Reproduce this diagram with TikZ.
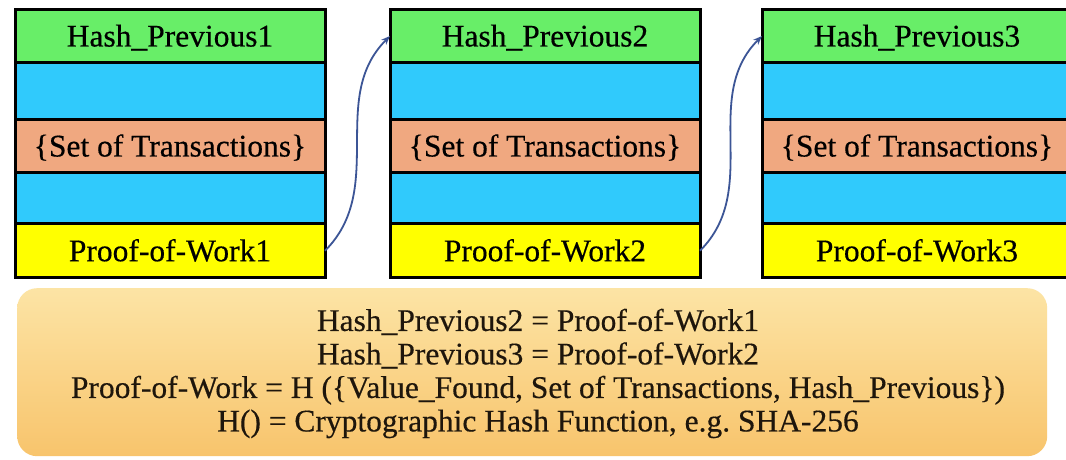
\documentclass[tikz,border=0pt]{standalone}
\usepackage{fontspec}
\setmainfont{Liberation Serif}[FakeBold=0.4]
\usetikzlibrary{arrows.meta}
\definecolor{hpgreen}{RGB}{104,238,104}
\definecolor{txblue}{RGB}{48,202,252}
\definecolor{txorange}{RGB}{240,168,128}
\definecolor{powyellow}{RGB}{255,255,0}
\definecolor{linkblue}{RGB}{60,85,150}
\definecolor{notetop}{RGB}{252,228,165}
\definecolor{notebot}{RGB}{248,196,108}
\definecolor{notetext}{RGB}{30,22,12}
\tikzset{
  rowbox/.style={draw=black, line width=2.2pt, minimum width=310pt, inner sep=0pt, outer sep=0pt,
    text height=21pt, text depth=0pt, anchor=north west, font=\fontsize{31.5}{33.5}\selectfont},
  hprow/.style={rowbox, fill=hpgreen, minimum height=53pt},
  blrowa/.style={rowbox, fill=txblue, minimum height=57pt},
  txrow/.style={rowbox, fill=txorange, minimum height=53pt},
  blrowb/.style={rowbox, fill=txblue, minimum height=51pt},
  pwrow/.style={rowbox, fill=powyellow, minimum height=54.5pt},
  frame/.style={draw=black, line width=3pt},
  link/.style={draw=linkblue, line width=1.8pt, -{Stealth[length=9pt,width=7pt]}},
  notebox/.style={rounded corners=20pt, top color=notetop, bottom color=notebot, draw=none},
  notetxt/.style={align=center, text=notetext, font=\fontsize{31.5}{33.5}\selectfont}
}
\begin{document}
\begin{tikzpicture}[x=1pt,y=1pt]
\useasboundingbox (0,0) rectangle (1066,460);
\fill[white] (0,0) rectangle (1066,460);
\foreach \i/\x in {1/15,2/390,3/762} {
  \node[hprow] (hp\i) at (\x,450.5) {Hash\_Previous\i};
  \node[blrowa] (ba\i) at (hp\i.south west) {};
  \node[txrow] (tr\i) at (ba\i.south west) {\{Set of Transactions\}};
  \node[blrowb] (bb\i) at (tr\i.south west) {};
  \node[pwrow] (pw\i) at (bb\i.south west) {Proof-of-Work\i};
  \draw[frame] (hp\i.north west) rectangle (pw\i.south east);
}
\draw[link] (pw1.east) to[out=45,in=225] (hp2.west);
\draw[link] (pw2.east) to[out=45,in=225] (hp3.west);
\node[notebox, minimum width=1030pt, minimum height=168pt, anchor=north west] (note) at (17,172) {};
\node[notetxt] (eqs) at (538,86.5) {Hash\_Previous2 = Proof-of-Work1\\
Hash\_Previous3 = Proof-of-Work2\\
Proof-of-Work = H (\{Value\_Found, Set of Transactions, Hash\_Previous\})\\
H() = Cryptographic Hash Function, e.g.\ SHA-256};
\end{tikzpicture}
\end{document}
